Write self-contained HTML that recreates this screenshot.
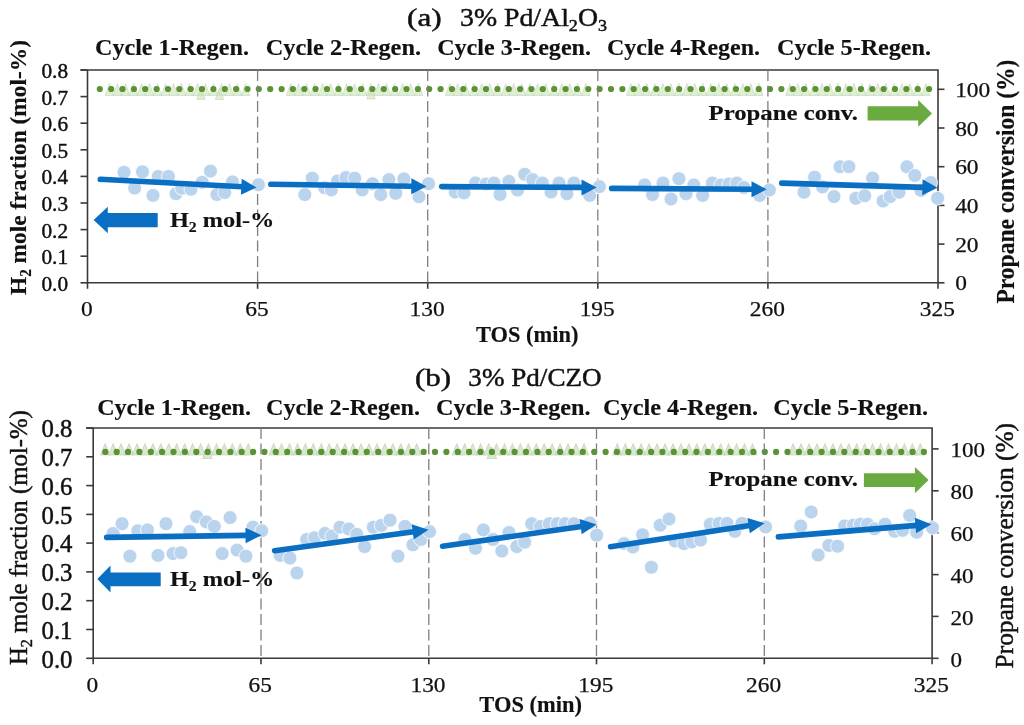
<!DOCTYPE html>
<html><head><meta charset="utf-8"><style>
html,body{margin:0;padding:0;background:#fff;width:1024px;height:725px;overflow:hidden;}
svg{display:block;filter:blur(0.35px);}
</style></head><body>
<svg width="1024" height="725" viewBox="0 0 1024 725" font-family="&quot;Liberation Serif&quot;, serif" fill="#111111">
<rect width="1024" height="725" fill="#ffffff"/>
<text x="407.08" y="25.55" font-size="25.0" font-weight="normal" stroke="#111111" stroke-width="0.45" textLength="34.66" lengthAdjust="spacingAndGlyphs" xml:space="preserve">(a)</text>
<text x="459.99" y="25.55" font-size="25.0" font-weight="normal" stroke="#111111" stroke-width="0.45" textLength="147.03" lengthAdjust="spacingAndGlyphs" xml:space="preserve">3% Pd/Al<tspan font-size="16.25" dy="5.0">2</tspan><tspan dy="-5.0">O</tspan><tspan font-size="16.25" dy="5.0">3</tspan></text>
<text x="94.97" y="55.30" font-size="23.5" font-weight="bold" stroke="#111111" stroke-width="0.15" textLength="154.04" lengthAdjust="spacingAndGlyphs" xml:space="preserve">Cycle 1-Regen.</text>
<text x="265.78" y="55.30" font-size="23.5" font-weight="bold" stroke="#111111" stroke-width="0.15" textLength="155.25" lengthAdjust="spacingAndGlyphs" xml:space="preserve">Cycle 2-Regen.</text>
<text x="437.18" y="55.30" font-size="23.5" font-weight="bold" stroke="#111111" stroke-width="0.15" textLength="153.83" lengthAdjust="spacingAndGlyphs" xml:space="preserve">Cycle 3-Regen.</text>
<text x="606.99" y="55.30" font-size="23.5" font-weight="bold" stroke="#111111" stroke-width="0.15" textLength="153.03" lengthAdjust="spacingAndGlyphs" xml:space="preserve">Cycle 4-Regen.</text>
<text x="776.99" y="55.30" font-size="23.5" font-weight="bold" stroke="#111111" stroke-width="0.15" textLength="154.03" lengthAdjust="spacingAndGlyphs" xml:space="preserve">Cycle 5-Regen.</text>
<path d="M80.5,70.0 H938.0 V282.8 H87.5 V70.0" fill="none" stroke="#3a3a3a" stroke-width="1.6"/>
<line x1="80.5" y1="282.8" x2="87.5" y2="282.8" stroke="#3a3a3a" stroke-width="1.6"/>
<line x1="80.5" y1="256.2" x2="87.5" y2="256.2" stroke="#3a3a3a" stroke-width="1.6"/>
<line x1="80.5" y1="229.6" x2="87.5" y2="229.6" stroke="#3a3a3a" stroke-width="1.6"/>
<line x1="80.5" y1="203.0" x2="87.5" y2="203.0" stroke="#3a3a3a" stroke-width="1.6"/>
<line x1="80.5" y1="176.4" x2="87.5" y2="176.4" stroke="#3a3a3a" stroke-width="1.6"/>
<line x1="80.5" y1="149.8" x2="87.5" y2="149.8" stroke="#3a3a3a" stroke-width="1.6"/>
<line x1="80.5" y1="123.2" x2="87.5" y2="123.2" stroke="#3a3a3a" stroke-width="1.6"/>
<line x1="80.5" y1="96.6" x2="87.5" y2="96.6" stroke="#3a3a3a" stroke-width="1.6"/>
<line x1="80.5" y1="70.0" x2="87.5" y2="70.0" stroke="#3a3a3a" stroke-width="1.6"/>
<line x1="938.0" y1="282.8" x2="944.5" y2="282.8" stroke="#3a3a3a" stroke-width="1.6"/>
<line x1="938.0" y1="244.1" x2="944.5" y2="244.1" stroke="#3a3a3a" stroke-width="1.6"/>
<line x1="938.0" y1="205.4" x2="944.5" y2="205.4" stroke="#3a3a3a" stroke-width="1.6"/>
<line x1="938.0" y1="166.7" x2="944.5" y2="166.7" stroke="#3a3a3a" stroke-width="1.6"/>
<line x1="938.0" y1="128.0" x2="944.5" y2="128.0" stroke="#3a3a3a" stroke-width="1.6"/>
<line x1="938.0" y1="89.3" x2="944.5" y2="89.3" stroke="#3a3a3a" stroke-width="1.6"/>
<line x1="87.5" y1="282.8" x2="87.5" y2="288.8" stroke="#3a3a3a" stroke-width="1.6"/>
<line x1="257.6" y1="282.8" x2="257.6" y2="288.8" stroke="#3a3a3a" stroke-width="1.6"/>
<line x1="427.7" y1="282.8" x2="427.7" y2="288.8" stroke="#3a3a3a" stroke-width="1.6"/>
<line x1="597.8" y1="282.8" x2="597.8" y2="288.8" stroke="#3a3a3a" stroke-width="1.6"/>
<line x1="767.9" y1="282.8" x2="767.9" y2="288.8" stroke="#3a3a3a" stroke-width="1.6"/>
<line x1="938.0" y1="282.8" x2="938.0" y2="288.8" stroke="#3a3a3a" stroke-width="1.6"/>
<g stroke="#111111" stroke-width="0.45">
<text x="41.51" y="290.80" font-size="21.8" textLength="26.55" lengthAdjust="spacingAndGlyphs">0.0</text>
<text x="41.51" y="264.20" font-size="21.8" textLength="26.55" lengthAdjust="spacingAndGlyphs">0.1</text>
<text x="41.51" y="237.60" font-size="21.8" textLength="26.55" lengthAdjust="spacingAndGlyphs">0.2</text>
<text x="41.51" y="211.00" font-size="21.8" textLength="26.55" lengthAdjust="spacingAndGlyphs">0.3</text>
<text x="41.51" y="184.40" font-size="21.8" textLength="26.55" lengthAdjust="spacingAndGlyphs">0.4</text>
<text x="41.51" y="157.80" font-size="21.8" textLength="26.55" lengthAdjust="spacingAndGlyphs">0.5</text>
<text x="41.51" y="131.20" font-size="21.8" textLength="26.55" lengthAdjust="spacingAndGlyphs">0.6</text>
<text x="41.51" y="104.60" font-size="21.8" textLength="26.55" lengthAdjust="spacingAndGlyphs">0.7</text>
<text x="41.51" y="78.00" font-size="21.8" textLength="26.55" lengthAdjust="spacingAndGlyphs">0.8</text>
</g><g stroke="#111111" stroke-width="0.25">
<text x="955.18" y="290.30" font-size="20.6" textLength="11.70" lengthAdjust="spacingAndGlyphs">0</text>
<text x="955.18" y="251.61" font-size="20.6" textLength="23.40" lengthAdjust="spacingAndGlyphs">20</text>
<text x="955.18" y="212.92" font-size="20.6" textLength="23.40" lengthAdjust="spacingAndGlyphs">40</text>
<text x="955.18" y="174.23" font-size="20.6" textLength="23.40" lengthAdjust="spacingAndGlyphs">60</text>
<text x="955.18" y="135.54" font-size="20.6" textLength="23.40" lengthAdjust="spacingAndGlyphs">80</text>
<text x="955.18" y="96.85" font-size="20.6" textLength="35.10" lengthAdjust="spacingAndGlyphs">100</text>
<text x="81.08" y="315.90" font-size="20.9" textLength="11.70" lengthAdjust="spacingAndGlyphs">0</text>
<text x="245.33" y="315.90" font-size="20.9" textLength="23.40" lengthAdjust="spacingAndGlyphs">65</text>
<text x="409.58" y="315.90" font-size="20.9" textLength="35.10" lengthAdjust="spacingAndGlyphs">130</text>
<text x="579.68" y="315.90" font-size="20.9" textLength="35.10" lengthAdjust="spacingAndGlyphs">195</text>
<text x="749.78" y="315.90" font-size="20.9" textLength="35.10" lengthAdjust="spacingAndGlyphs">260</text>
<text x="919.88" y="315.90" font-size="20.9" textLength="35.10" lengthAdjust="spacingAndGlyphs">325</text>
</g>
<text x="476.00" y="342.00" font-size="23.4" font-weight="bold" stroke="#111111" stroke-width="0.15" textLength="102.41" lengthAdjust="spacingAndGlyphs" xml:space="preserve">TOS (min)</text>
<text transform="translate(26.20,295.01) rotate(-90)" font-size="24.1" font-weight="bold" stroke="#111111" stroke-width="0.15" textLength="255.01" lengthAdjust="spacingAndGlyphs" xml:space="preserve">H<tspan font-size="15.67" dy="4.82">2</tspan><tspan dy="-4.82"> mole fraction (mol-%)</tspan></text>
<text transform="translate(1013.70,303.60) rotate(-90)" font-size="24.4" font-weight="bold" stroke="#111111" stroke-width="0.15" textLength="244.01" lengthAdjust="spacingAndGlyphs" xml:space="preserve">Propane conversion (%)</text>
<g fill="#c9e6b4" fill-opacity="0.6" stroke="#c0cbb8" stroke-width="0.7" stroke-opacity="0.7"><path d="M109.5,83.5 L113.8,95.5 L105.2,95.5 Z"/><path d="M117.5,83.5 L121.8,95.5 L113.2,95.5 Z"/><path d="M125.5,83.5 L129.8,95.5 L121.2,95.5 Z"/><path d="M133.5,83.5 L137.8,95.5 L129.2,95.5 Z"/><path d="M141.5,83.5 L145.8,95.5 L137.2,95.5 Z"/><path d="M149.5,83.5 L153.8,95.5 L145.2,95.5 Z"/><path d="M157.5,83.5 L161.8,95.5 L153.2,95.5 Z"/><path d="M165.5,83.5 L169.8,95.5 L161.2,95.5 Z"/><path d="M173.5,83.5 L177.8,95.5 L169.2,95.5 Z"/><path d="M181.5,83.5 L185.8,95.5 L177.2,95.5 Z"/><path d="M189.5,83.5 L193.8,95.5 L185.2,95.5 Z"/><path d="M197.5,83.5 L201.8,95.5 L193.2,95.5 Z"/><path d="M205.5,83.5 L209.8,95.5 L201.2,95.5 Z"/><path d="M213.5,83.5 L217.8,95.5 L209.2,95.5 Z"/><path d="M221.5,83.5 L225.8,95.5 L217.2,95.5 Z"/><path d="M229.5,83.5 L233.8,95.5 L225.2,95.5 Z"/><path d="M237.5,83.5 L241.8,95.5 L233.2,95.5 Z"/><path d="M245.5,83.5 L249.8,95.5 L241.2,95.5 Z"/><path d="M290.6,83.5 L294.9,95.5 L286.4,95.5 Z"/><path d="M298.6,83.5 L302.9,95.5 L294.4,95.5 Z"/><path d="M306.6,83.5 L310.9,95.5 L302.4,95.5 Z"/><path d="M314.6,83.5 L318.9,95.5 L310.4,95.5 Z"/><path d="M322.6,83.5 L326.9,95.5 L318.4,95.5 Z"/><path d="M330.6,83.5 L334.9,95.5 L326.4,95.5 Z"/><path d="M338.6,83.5 L342.9,95.5 L334.4,95.5 Z"/><path d="M346.6,83.5 L350.9,95.5 L342.4,95.5 Z"/><path d="M354.6,83.5 L358.9,95.5 L350.4,95.5 Z"/><path d="M362.6,83.5 L366.9,95.5 L358.4,95.5 Z"/><path d="M370.6,83.5 L374.9,95.5 L366.4,95.5 Z"/><path d="M378.6,83.5 L382.9,95.5 L374.4,95.5 Z"/><path d="M386.6,83.5 L390.9,95.5 L382.4,95.5 Z"/><path d="M394.6,83.5 L398.9,95.5 L390.4,95.5 Z"/><path d="M402.6,83.5 L406.9,95.5 L398.4,95.5 Z"/><path d="M410.6,83.5 L414.9,95.5 L406.4,95.5 Z"/><path d="M418.6,83.5 L422.9,95.5 L414.4,95.5 Z"/><path d="M449.7,83.5 L453.9,95.5 L445.4,95.5 Z"/><path d="M457.7,83.5 L461.9,95.5 L453.4,95.5 Z"/><path d="M465.7,83.5 L469.9,95.5 L461.4,95.5 Z"/><path d="M473.7,83.5 L477.9,95.5 L469.4,95.5 Z"/><path d="M481.7,83.5 L485.9,95.5 L477.4,95.5 Z"/><path d="M489.7,83.5 L493.9,95.5 L485.4,95.5 Z"/><path d="M497.7,83.5 L501.9,95.5 L493.4,95.5 Z"/><path d="M505.7,83.5 L509.9,95.5 L501.4,95.5 Z"/><path d="M513.7,83.5 L518.0,95.5 L509.5,95.5 Z"/><path d="M521.7,83.5 L526.0,95.5 L517.5,95.5 Z"/><path d="M529.7,83.5 L534.0,95.5 L525.5,95.5 Z"/><path d="M537.7,83.5 L542.0,95.5 L533.5,95.5 Z"/><path d="M545.7,83.5 L550.0,95.5 L541.5,95.5 Z"/><path d="M553.7,83.5 L558.0,95.5 L549.5,95.5 Z"/><path d="M561.7,83.5 L566.0,95.5 L557.5,95.5 Z"/><path d="M569.7,83.5 L574.0,95.5 L565.5,95.5 Z"/><path d="M577.7,83.5 L582.0,95.5 L573.5,95.5 Z"/><path d="M585.7,83.5 L590.0,95.5 L581.5,95.5 Z"/><path d="M630.8,83.5 L635.0,95.5 L626.5,95.5 Z"/><path d="M638.8,83.5 L643.0,95.5 L634.5,95.5 Z"/><path d="M646.8,83.5 L651.0,95.5 L642.5,95.5 Z"/><path d="M654.8,83.5 L659.0,95.5 L650.5,95.5 Z"/><path d="M662.8,83.5 L667.0,95.5 L658.5,95.5 Z"/><path d="M670.8,83.5 L675.0,95.5 L666.5,95.5 Z"/><path d="M678.8,83.5 L683.0,95.5 L674.5,95.5 Z"/><path d="M686.8,83.5 L691.0,95.5 L682.5,95.5 Z"/><path d="M694.8,83.5 L699.0,95.5 L690.5,95.5 Z"/><path d="M702.8,83.5 L707.0,95.5 L698.5,95.5 Z"/><path d="M710.8,83.5 L715.0,95.5 L706.5,95.5 Z"/><path d="M718.8,83.5 L723.0,95.5 L714.5,95.5 Z"/><path d="M726.8,83.5 L731.0,95.5 L722.5,95.5 Z"/><path d="M734.8,83.5 L739.0,95.5 L730.5,95.5 Z"/><path d="M742.8,83.5 L747.0,95.5 L738.5,95.5 Z"/><path d="M750.8,83.5 L755.0,95.5 L746.5,95.5 Z"/><path d="M758.8,83.5 L763.0,95.5 L754.5,95.5 Z"/><path d="M789.9,83.5 L794.1,95.5 L785.6,95.5 Z"/><path d="M797.9,83.5 L802.1,95.5 L793.6,95.5 Z"/><path d="M805.9,83.5 L810.1,95.5 L801.6,95.5 Z"/><path d="M813.9,83.5 L818.1,95.5 L809.6,95.5 Z"/><path d="M821.9,83.5 L826.1,95.5 L817.6,95.5 Z"/><path d="M829.9,83.5 L834.1,95.5 L825.6,95.5 Z"/><path d="M837.9,83.5 L842.1,95.5 L833.6,95.5 Z"/><path d="M845.9,83.5 L850.1,95.5 L841.6,95.5 Z"/><path d="M853.9,83.5 L858.1,95.5 L849.6,95.5 Z"/><path d="M861.9,83.5 L866.1,95.5 L857.6,95.5 Z"/><path d="M869.9,83.5 L874.1,95.5 L865.6,95.5 Z"/><path d="M877.9,83.5 L882.1,95.5 L873.6,95.5 Z"/><path d="M885.9,83.5 L890.1,95.5 L881.6,95.5 Z"/><path d="M893.9,83.5 L898.1,95.5 L889.6,95.5 Z"/><path d="M901.9,83.5 L906.1,95.5 L897.6,95.5 Z"/><path d="M909.9,83.5 L914.1,95.5 L905.6,95.5 Z"/><path d="M917.9,83.5 L922.1,95.5 L913.6,95.5 Z"/><path d="M925.9,83.5 L930.1,95.5 L921.6,95.5 Z"/><path d="M201.0,88.0 L205.2,99.5 L196.8,99.5 Z"/><path d="M219.5,88.0 L223.8,99.5 L215.2,99.5 Z"/><path d="M371.0,87.5 L375.2,99.0 L366.8,99.0 Z"/></g>
<g fill="#5a9234"><circle cx="99.8" cy="89.0" r="3.1"/><circle cx="111.2" cy="89.0" r="3.1"/><circle cx="122.5" cy="89.0" r="3.1"/><circle cx="133.9" cy="89.0" r="3.1"/><circle cx="145.2" cy="89.0" r="3.1"/><circle cx="156.6" cy="89.0" r="3.1"/><circle cx="168.0" cy="89.0" r="3.1"/><circle cx="179.3" cy="89.0" r="3.1"/><circle cx="190.7" cy="89.0" r="3.1"/><circle cx="202.0" cy="89.0" r="3.1"/><circle cx="213.4" cy="89.0" r="3.1"/><circle cx="224.8" cy="89.0" r="3.1"/><circle cx="236.1" cy="89.0" r="3.1"/><circle cx="247.5" cy="89.0" r="3.1"/><circle cx="258.8" cy="89.0" r="3.1"/><circle cx="270.2" cy="89.0" r="3.1"/><circle cx="281.6" cy="89.0" r="3.1"/><circle cx="292.9" cy="89.0" r="3.1"/><circle cx="304.3" cy="89.0" r="3.1"/><circle cx="315.6" cy="89.0" r="3.1"/><circle cx="327.0" cy="89.0" r="3.1"/><circle cx="338.4" cy="89.0" r="3.1"/><circle cx="349.7" cy="89.0" r="3.1"/><circle cx="361.1" cy="89.0" r="3.1"/><circle cx="372.4" cy="89.0" r="3.1"/><circle cx="383.8" cy="89.0" r="3.1"/><circle cx="395.2" cy="89.0" r="3.1"/><circle cx="406.5" cy="89.0" r="3.1"/><circle cx="417.9" cy="89.0" r="3.1"/><circle cx="429.2" cy="89.0" r="3.1"/><circle cx="440.6" cy="89.0" r="3.1"/><circle cx="452.0" cy="89.0" r="3.1"/><circle cx="463.3" cy="89.0" r="3.1"/><circle cx="474.7" cy="89.0" r="3.1"/><circle cx="486.0" cy="89.0" r="3.1"/><circle cx="497.4" cy="89.0" r="3.1"/><circle cx="508.8" cy="89.0" r="3.1"/><circle cx="520.1" cy="89.0" r="3.1"/><circle cx="531.5" cy="89.0" r="3.1"/><circle cx="542.8" cy="89.0" r="3.1"/><circle cx="554.2" cy="89.0" r="3.1"/><circle cx="565.6" cy="89.0" r="3.1"/><circle cx="576.9" cy="89.0" r="3.1"/><circle cx="588.3" cy="89.0" r="3.1"/><circle cx="599.6" cy="89.0" r="3.1"/><circle cx="611.0" cy="89.0" r="3.1"/><circle cx="622.4" cy="89.0" r="3.1"/><circle cx="633.7" cy="89.0" r="3.1"/><circle cx="645.1" cy="89.0" r="3.1"/><circle cx="656.4" cy="89.0" r="3.1"/><circle cx="667.8" cy="89.0" r="3.1"/><circle cx="679.2" cy="89.0" r="3.1"/><circle cx="690.5" cy="89.0" r="3.1"/><circle cx="701.9" cy="89.0" r="3.1"/><circle cx="713.2" cy="89.0" r="3.1"/><circle cx="724.6" cy="89.0" r="3.1"/><circle cx="736.0" cy="89.0" r="3.1"/><circle cx="747.3" cy="89.0" r="3.1"/><circle cx="758.7" cy="89.0" r="3.1"/><circle cx="770.0" cy="89.0" r="3.1"/><circle cx="781.4" cy="89.0" r="3.1"/><circle cx="792.8" cy="89.0" r="3.1"/><circle cx="804.1" cy="89.0" r="3.1"/><circle cx="815.5" cy="89.0" r="3.1"/><circle cx="826.8" cy="89.0" r="3.1"/><circle cx="838.2" cy="89.0" r="3.1"/><circle cx="849.6" cy="89.0" r="3.1"/><circle cx="860.9" cy="89.0" r="3.1"/><circle cx="872.3" cy="89.0" r="3.1"/><circle cx="883.6" cy="89.0" r="3.1"/><circle cx="895.0" cy="89.0" r="3.1"/><circle cx="906.4" cy="89.0" r="3.1"/><circle cx="917.7" cy="89.0" r="3.1"/><circle cx="929.1" cy="89.0" r="3.1"/></g>
<line x1="257.6" y1="70.0" x2="257.6" y2="282.8" stroke="#7f7f7f" stroke-width="1.3" stroke-dasharray="11,4.5"/>
<line x1="427.7" y1="70.0" x2="427.7" y2="282.8" stroke="#7f7f7f" stroke-width="1.3" stroke-dasharray="11,4.5"/>
<line x1="597.8" y1="70.0" x2="597.8" y2="282.8" stroke="#7f7f7f" stroke-width="1.3" stroke-dasharray="11,4.5"/>
<line x1="767.9" y1="70.0" x2="767.9" y2="282.8" stroke="#7f7f7f" stroke-width="1.3" stroke-dasharray="11,4.5"/>
<g fill="#bbd4ee" stroke="#ffffff" stroke-width="0.8"><circle cx="124.0" cy="172.3" r="7.0"/><circle cx="134.6" cy="188.0" r="7.0"/><circle cx="142.5" cy="171.8" r="7.0"/><circle cx="153.0" cy="195.4" r="7.0"/><circle cx="158.3" cy="176.5" r="7.0"/><circle cx="168.4" cy="176.5" r="7.0"/><circle cx="176.0" cy="193.7" r="7.0"/><circle cx="181.7" cy="188.2" r="7.0"/><circle cx="191.0" cy="189.2" r="7.0"/><circle cx="202.2" cy="182.3" r="7.0"/><circle cx="210.5" cy="171.1" r="7.0"/><circle cx="216.9" cy="194.5" r="7.0"/><circle cx="224.7" cy="192.6" r="7.0"/><circle cx="232.5" cy="181.9" r="7.0"/><circle cx="258.4" cy="184.8" r="7.0"/><circle cx="304.8" cy="194.6" r="7.0"/><circle cx="312.3" cy="178.2" r="7.0"/><circle cx="324.6" cy="187.8" r="7.0"/><circle cx="331.4" cy="189.9" r="7.0"/><circle cx="337.6" cy="181.0" r="7.0"/><circle cx="345.8" cy="177.6" r="7.0"/><circle cx="354.7" cy="178.2" r="7.0"/><circle cx="362.2" cy="189.9" r="7.0"/><circle cx="372.5" cy="183.7" r="7.0"/><circle cx="380.7" cy="194.6" r="7.0"/><circle cx="388.9" cy="179.6" r="7.0"/><circle cx="395.7" cy="193.3" r="7.0"/><circle cx="403.9" cy="178.9" r="7.0"/><circle cx="419.0" cy="196.7" r="7.0"/><circle cx="428.5" cy="183.7" r="7.0"/><circle cx="455.2" cy="192.0" r="7.0"/><circle cx="464.0" cy="192.8" r="7.0"/><circle cx="475.5" cy="183.0" r="7.0"/><circle cx="486.0" cy="184.0" r="7.0"/><circle cx="494.0" cy="183.0" r="7.0"/><circle cx="500.0" cy="194.5" r="7.0"/><circle cx="508.9" cy="181.4" r="7.0"/><circle cx="517.6" cy="190.0" r="7.0"/><circle cx="524.7" cy="174.3" r="7.0"/><circle cx="532.6" cy="179.6" r="7.0"/><circle cx="542.3" cy="183.0" r="7.0"/><circle cx="551.0" cy="192.0" r="7.0"/><circle cx="559.0" cy="183.0" r="7.0"/><circle cx="566.9" cy="193.7" r="7.0"/><circle cx="573.9" cy="183.0" r="7.0"/><circle cx="589.7" cy="195.4" r="7.0"/><circle cx="599.4" cy="186.6" r="7.0"/><circle cx="644.6" cy="185.0" r="7.0"/><circle cx="652.5" cy="194.5" r="7.0"/><circle cx="663.0" cy="183.0" r="7.0"/><circle cx="671.0" cy="199.0" r="7.0"/><circle cx="678.9" cy="178.7" r="7.0"/><circle cx="686.0" cy="193.7" r="7.0"/><circle cx="693.8" cy="185.0" r="7.0"/><circle cx="702.6" cy="195.4" r="7.0"/><circle cx="712.3" cy="183.0" r="7.0"/><circle cx="721.0" cy="185.0" r="7.0"/><circle cx="729.0" cy="184.0" r="7.0"/><circle cx="736.9" cy="183.0" r="7.0"/><circle cx="743.9" cy="187.5" r="7.0"/><circle cx="759.7" cy="195.4" r="7.0"/><circle cx="769.4" cy="190.0" r="7.0"/><circle cx="804.0" cy="192.2" r="7.0"/><circle cx="814.6" cy="177.2" r="7.0"/><circle cx="822.5" cy="186.9" r="7.0"/><circle cx="834.0" cy="196.6" r="7.0"/><circle cx="840.0" cy="166.7" r="7.0"/><circle cx="848.9" cy="166.7" r="7.0"/><circle cx="855.9" cy="198.3" r="7.0"/><circle cx="864.7" cy="195.7" r="7.0"/><circle cx="872.6" cy="178.1" r="7.0"/><circle cx="883.1" cy="201.0" r="7.0"/><circle cx="890.2" cy="196.6" r="7.0"/><circle cx="899.0" cy="192.2" r="7.0"/><circle cx="906.9" cy="166.7" r="7.0"/><circle cx="914.8" cy="175.5" r="7.0"/><circle cx="920.9" cy="190.4" r="7.0"/><circle cx="930.6" cy="182.5" r="7.0"/><circle cx="937.6" cy="198.3" r="7.0"/></g>
<line x1="100.3" y1="179.3" x2="242.3" y2="186.8" stroke="#0a6fc2" stroke-width="5.6" stroke-linecap="round"/>
<path d="M256.5,187.5 L240.9,194.7 L241.7,178.7 Z" fill="#0a6fc2"/>
<line x1="270.8" y1="184.2" x2="412.3" y2="186.2" stroke="#0a6fc2" stroke-width="5.6" stroke-linecap="round"/>
<path d="M426.5,186.4 L411.2,194.2 L411.4,178.2 Z" fill="#0a6fc2"/>
<line x1="441.7" y1="186.6" x2="582.5" y2="187.4" stroke="#0a6fc2" stroke-width="5.6" stroke-linecap="round"/>
<path d="M596.7,187.5 L581.5,195.4 L581.5,179.4 Z" fill="#0a6fc2"/>
<line x1="611.7" y1="188.4" x2="752.5" y2="189.2" stroke="#0a6fc2" stroke-width="5.6" stroke-linecap="round"/>
<path d="M766.7,189.3 L751.5,197.2 L751.5,181.2 Z" fill="#0a6fc2"/>
<line x1="781.7" y1="183.1" x2="923.4" y2="187.4" stroke="#0a6fc2" stroke-width="5.6" stroke-linecap="round"/>
<path d="M937.6,187.8 L922.2,195.3 L922.6,179.3 Z" fill="#0a6fc2"/>
<text x="708.59" y="119.60" font-size="21.5" font-weight="bold" stroke="#111111" stroke-width="0.15" textLength="149.42" lengthAdjust="spacingAndGlyphs" xml:space="preserve">Propane conv.</text>
<path d="M867.6,106.3 H918.2 V100.1 L932,113.5 L918.2,126.8 V120.5 H867.6 Z" fill="#6aab40"/>
<path d="M93.6,220 L107.8,206.7 V213.1 H157.7 V227.2 H107.8 V233.2 Z" fill="#0a6fc2"/>
<text x="169.97" y="227.30" font-size="21.4" font-weight="bold" stroke="#111111" stroke-width="0.15" textLength="104.48" lengthAdjust="spacingAndGlyphs" xml:space="preserve">H<tspan font-size="13.91" dy="4.28">2</tspan><tspan dy="-4.28"> mol-%</tspan></text>
<text x="415.05" y="386.20" font-size="25.2" font-weight="normal" stroke="#111111" stroke-width="0.45" textLength="36.09" lengthAdjust="spacingAndGlyphs" xml:space="preserve">(b)</text>
<text x="468.37" y="386.20" font-size="25.2" font-weight="normal" stroke="#111111" stroke-width="0.45" textLength="133.25" lengthAdjust="spacingAndGlyphs" xml:space="preserve">3% Pd/CZO</text>
<text x="97.18" y="414.60" font-size="23.8" font-weight="bold" stroke="#111111" stroke-width="0.15" textLength="153.83" lengthAdjust="spacingAndGlyphs" xml:space="preserve">Cycle 1-Regen.</text>
<text x="265.99" y="414.60" font-size="23.8" font-weight="bold" stroke="#111111" stroke-width="0.15" textLength="154.03" lengthAdjust="spacingAndGlyphs" xml:space="preserve">Cycle 2-Regen.</text>
<text x="435.99" y="414.60" font-size="23.8" font-weight="bold" stroke="#111111" stroke-width="0.15" textLength="154.64" lengthAdjust="spacingAndGlyphs" xml:space="preserve">Cycle 3-Regen.</text>
<text x="602.99" y="414.60" font-size="23.8" font-weight="bold" stroke="#111111" stroke-width="0.15" textLength="155.03" lengthAdjust="spacingAndGlyphs" xml:space="preserve">Cycle 4-Regen.</text>
<text x="773.38" y="414.60" font-size="23.8" font-weight="bold" stroke="#111111" stroke-width="0.15" textLength="154.64" lengthAdjust="spacingAndGlyphs" xml:space="preserve">Cycle 5-Regen.</text>
<path d="M86.2,428.0 H932.1 V658.3 H93.2 V428.0" fill="none" stroke="#3a3a3a" stroke-width="1.6"/>
<line x1="86.2" y1="658.3" x2="93.2" y2="658.3" stroke="#3a3a3a" stroke-width="1.6"/>
<line x1="86.2" y1="629.5" x2="93.2" y2="629.5" stroke="#3a3a3a" stroke-width="1.6"/>
<line x1="86.2" y1="600.7" x2="93.2" y2="600.7" stroke="#3a3a3a" stroke-width="1.6"/>
<line x1="86.2" y1="571.9" x2="93.2" y2="571.9" stroke="#3a3a3a" stroke-width="1.6"/>
<line x1="86.2" y1="543.1" x2="93.2" y2="543.1" stroke="#3a3a3a" stroke-width="1.6"/>
<line x1="86.2" y1="514.4" x2="93.2" y2="514.4" stroke="#3a3a3a" stroke-width="1.6"/>
<line x1="86.2" y1="485.6" x2="93.2" y2="485.6" stroke="#3a3a3a" stroke-width="1.6"/>
<line x1="86.2" y1="456.8" x2="93.2" y2="456.8" stroke="#3a3a3a" stroke-width="1.6"/>
<line x1="86.2" y1="428.0" x2="93.2" y2="428.0" stroke="#3a3a3a" stroke-width="1.6"/>
<line x1="932.1" y1="658.3" x2="938.6" y2="658.3" stroke="#3a3a3a" stroke-width="1.6"/>
<line x1="932.1" y1="616.4" x2="938.6" y2="616.4" stroke="#3a3a3a" stroke-width="1.6"/>
<line x1="932.1" y1="574.6" x2="938.6" y2="574.6" stroke="#3a3a3a" stroke-width="1.6"/>
<line x1="932.1" y1="532.7" x2="938.6" y2="532.7" stroke="#3a3a3a" stroke-width="1.6"/>
<line x1="932.1" y1="490.8" x2="938.6" y2="490.8" stroke="#3a3a3a" stroke-width="1.6"/>
<line x1="932.1" y1="448.9" x2="938.6" y2="448.9" stroke="#3a3a3a" stroke-width="1.6"/>
<line x1="93.2" y1="658.3" x2="93.2" y2="664.3" stroke="#3a3a3a" stroke-width="1.6"/>
<line x1="261.0" y1="658.3" x2="261.0" y2="664.3" stroke="#3a3a3a" stroke-width="1.6"/>
<line x1="428.8" y1="658.3" x2="428.8" y2="664.3" stroke="#3a3a3a" stroke-width="1.6"/>
<line x1="596.5" y1="658.3" x2="596.5" y2="664.3" stroke="#3a3a3a" stroke-width="1.6"/>
<line x1="764.3" y1="658.3" x2="764.3" y2="664.3" stroke="#3a3a3a" stroke-width="1.6"/>
<line x1="932.1" y1="658.3" x2="932.1" y2="664.3" stroke="#3a3a3a" stroke-width="1.6"/>
<g stroke="#111111" stroke-width="0.45">
<text x="41.54" y="667.50" font-size="24.3" textLength="30.95" lengthAdjust="spacingAndGlyphs">0.0</text>
<text x="41.54" y="638.71" font-size="24.3" textLength="30.95" lengthAdjust="spacingAndGlyphs">0.1</text>
<text x="41.54" y="609.92" font-size="24.3" textLength="30.95" lengthAdjust="spacingAndGlyphs">0.2</text>
<text x="41.54" y="581.14" font-size="24.3" textLength="30.95" lengthAdjust="spacingAndGlyphs">0.3</text>
<text x="41.54" y="552.35" font-size="24.3" textLength="30.95" lengthAdjust="spacingAndGlyphs">0.4</text>
<text x="41.54" y="523.56" font-size="24.3" textLength="30.95" lengthAdjust="spacingAndGlyphs">0.5</text>
<text x="41.54" y="494.77" font-size="24.3" textLength="30.95" lengthAdjust="spacingAndGlyphs">0.6</text>
<text x="41.54" y="465.99" font-size="24.3" textLength="30.95" lengthAdjust="spacingAndGlyphs">0.7</text>
<text x="41.54" y="437.20" font-size="24.3" textLength="30.95" lengthAdjust="spacingAndGlyphs">0.8</text>
</g><g stroke="#111111" stroke-width="0.25">
<text x="950.55" y="666.80" font-size="20.0" textLength="11.52" lengthAdjust="spacingAndGlyphs">0</text>
<text x="950.55" y="624.93" font-size="20.0" textLength="23.04" lengthAdjust="spacingAndGlyphs">20</text>
<text x="950.55" y="583.05" font-size="20.0" textLength="23.04" lengthAdjust="spacingAndGlyphs">40</text>
<text x="950.55" y="541.18" font-size="20.0" textLength="23.04" lengthAdjust="spacingAndGlyphs">60</text>
<text x="950.55" y="499.31" font-size="20.0" textLength="23.04" lengthAdjust="spacingAndGlyphs">80</text>
<text x="950.55" y="457.44" font-size="20.0" textLength="34.55" lengthAdjust="spacingAndGlyphs">100</text>
<text x="86.63" y="691.90" font-size="21.5" textLength="11.67" lengthAdjust="spacingAndGlyphs">0</text>
<text x="248.58" y="691.90" font-size="21.5" textLength="23.35" lengthAdjust="spacingAndGlyphs">65</text>
<text x="410.52" y="691.90" font-size="21.5" textLength="35.02" lengthAdjust="spacingAndGlyphs">130</text>
<text x="578.30" y="691.90" font-size="21.5" textLength="35.02" lengthAdjust="spacingAndGlyphs">195</text>
<text x="746.08" y="691.90" font-size="21.5" textLength="35.02" lengthAdjust="spacingAndGlyphs">260</text>
<text x="913.86" y="691.90" font-size="21.5" textLength="35.02" lengthAdjust="spacingAndGlyphs">325</text>
</g>
<text x="479.39" y="712.00" font-size="22.1" font-weight="bold" stroke="#111111" stroke-width="0.15" textLength="102.62" lengthAdjust="spacingAndGlyphs" xml:space="preserve">TOS (min)</text>
<text transform="translate(27.30,665.01) rotate(-90)" font-size="24.6" font-weight="normal" stroke="#111111" stroke-width="0.45" textLength="254.82" lengthAdjust="spacingAndGlyphs" xml:space="preserve">H<tspan font-size="15.99" dy="4.92">2</tspan><tspan dy="-4.92"> mole fraction (mol-%)</tspan></text>
<text transform="translate(1013.40,668.41) rotate(-90)" font-size="24.6" font-weight="normal" stroke="#111111" stroke-width="0.45" textLength="245.42" lengthAdjust="spacingAndGlyphs" xml:space="preserve">Propane conversion (%)</text>
<g fill="#d2e9c3" fill-opacity="0.9" stroke="#b5bdb0" stroke-width="0.7" stroke-opacity="0.7"><path d="M105.2,443.5 L110.0,455.0 L100.5,455.0 Z"/><path d="M113.2,443.5 L117.9,455.0 L108.4,455.0 Z"/><path d="M121.1,443.5 L125.9,455.0 L116.4,455.0 Z"/><path d="M129.1,443.5 L133.8,455.0 L124.3,455.0 Z"/><path d="M137.0,443.5 L141.8,455.0 L132.2,455.0 Z"/><path d="M144.9,443.5 L149.7,455.0 L140.2,455.0 Z"/><path d="M152.9,443.5 L157.6,455.0 L148.1,455.0 Z"/><path d="M160.8,443.5 L165.6,455.0 L156.1,455.0 Z"/><path d="M168.8,443.5 L173.5,455.0 L164.0,455.0 Z"/><path d="M176.7,443.5 L181.5,455.0 L172.0,455.0 Z"/><path d="M184.7,443.5 L189.4,455.0 L179.9,455.0 Z"/><path d="M192.6,443.5 L197.4,455.0 L187.9,455.0 Z"/><path d="M200.6,443.5 L205.3,455.0 L195.8,455.0 Z"/><path d="M208.5,443.5 L213.3,455.0 L203.8,455.0 Z"/><path d="M216.5,443.5 L221.2,455.0 L211.7,455.0 Z"/><path d="M224.4,443.5 L229.2,455.0 L219.7,455.0 Z"/><path d="M232.4,443.5 L237.1,455.0 L227.6,455.0 Z"/><path d="M240.3,443.5 L245.1,455.0 L235.6,455.0 Z"/><path d="M248.3,443.5 L253.0,455.0 L243.5,455.0 Z"/><path d="M273.6,443.5 L278.3,455.0 L268.8,455.0 Z"/><path d="M281.5,443.5 L286.3,455.0 L276.8,455.0 Z"/><path d="M289.5,443.5 L294.2,455.0 L284.7,455.0 Z"/><path d="M297.4,443.5 L302.2,455.0 L292.7,455.0 Z"/><path d="M305.4,443.5 L310.1,455.0 L300.6,455.0 Z"/><path d="M313.3,443.5 L318.1,455.0 L308.6,455.0 Z"/><path d="M321.3,443.5 L326.0,455.0 L316.5,455.0 Z"/><path d="M329.2,443.5 L334.0,455.0 L324.5,455.0 Z"/><path d="M337.2,443.5 L341.9,455.0 L332.4,455.0 Z"/><path d="M345.1,443.5 L349.9,455.0 L340.4,455.0 Z"/><path d="M353.1,443.5 L357.8,455.0 L348.3,455.0 Z"/><path d="M361.0,443.5 L365.8,455.0 L356.3,455.0 Z"/><path d="M369.0,443.5 L373.7,455.0 L364.2,455.0 Z"/><path d="M376.9,443.5 L381.7,455.0 L372.2,455.0 Z"/><path d="M384.9,443.5 L389.6,455.0 L380.1,455.0 Z"/><path d="M392.8,443.5 L397.6,455.0 L388.1,455.0 Z"/><path d="M400.8,443.5 L405.5,455.0 L396.0,455.0 Z"/><path d="M408.7,443.5 L413.5,455.0 L404.0,455.0 Z"/><path d="M416.7,443.5 L421.4,455.0 L411.9,455.0 Z"/><path d="M456.8,443.5 L461.5,455.0 L452.0,455.0 Z"/><path d="M464.7,443.5 L469.5,455.0 L460.0,455.0 Z"/><path d="M472.7,443.5 L477.4,455.0 L467.9,455.0 Z"/><path d="M480.6,443.5 L485.4,455.0 L475.9,455.0 Z"/><path d="M488.6,443.5 L493.3,455.0 L483.8,455.0 Z"/><path d="M496.5,443.5 L501.3,455.0 L491.8,455.0 Z"/><path d="M504.5,443.5 L509.2,455.0 L499.7,455.0 Z"/><path d="M512.4,443.5 L517.2,455.0 L507.7,455.0 Z"/><path d="M520.4,443.5 L525.1,455.0 L515.6,455.0 Z"/><path d="M528.3,443.5 L533.1,455.0 L523.6,455.0 Z"/><path d="M536.3,443.5 L541.0,455.0 L531.5,455.0 Z"/><path d="M544.2,443.5 L549.0,455.0 L539.5,455.0 Z"/><path d="M552.2,443.5 L556.9,455.0 L547.4,455.0 Z"/><path d="M560.1,443.5 L564.9,455.0 L555.4,455.0 Z"/><path d="M568.1,443.5 L572.8,455.0 L563.3,455.0 Z"/><path d="M576.0,443.5 L580.8,455.0 L571.3,455.0 Z"/><path d="M584.0,443.5 L588.7,455.0 L579.2,455.0 Z"/><path d="M617.3,443.5 L622.1,455.0 L612.6,455.0 Z"/><path d="M625.3,443.5 L630.0,455.0 L620.5,455.0 Z"/><path d="M633.2,443.5 L638.0,455.0 L628.5,455.0 Z"/><path d="M641.2,443.5 L645.9,455.0 L636.4,455.0 Z"/><path d="M649.1,443.5 L653.9,455.0 L644.4,455.0 Z"/><path d="M657.1,443.5 L661.8,455.0 L652.3,455.0 Z"/><path d="M665.0,443.5 L669.8,455.0 L660.3,455.0 Z"/><path d="M673.0,443.5 L677.7,455.0 L668.2,455.0 Z"/><path d="M680.9,443.5 L685.7,455.0 L676.2,455.0 Z"/><path d="M688.9,443.5 L693.6,455.0 L684.1,455.0 Z"/><path d="M696.8,443.5 L701.6,455.0 L692.1,455.0 Z"/><path d="M704.8,443.5 L709.5,455.0 L700.0,455.0 Z"/><path d="M712.7,443.5 L717.5,455.0 L708.0,455.0 Z"/><path d="M720.7,443.5 L725.4,455.0 L715.9,455.0 Z"/><path d="M728.6,443.5 L733.4,455.0 L723.9,455.0 Z"/><path d="M736.6,443.5 L741.3,455.0 L731.8,455.0 Z"/><path d="M744.5,443.5 L749.3,455.0 L739.8,455.0 Z"/><path d="M752.5,443.5 L757.2,455.0 L747.7,455.0 Z"/><path d="M793.1,443.5 L797.9,455.0 L788.4,455.0 Z"/><path d="M801.1,443.5 L805.8,455.0 L796.3,455.0 Z"/><path d="M809.0,443.5 L813.8,455.0 L804.3,455.0 Z"/><path d="M817.0,443.5 L821.7,455.0 L812.2,455.0 Z"/><path d="M824.9,443.5 L829.7,455.0 L820.2,455.0 Z"/><path d="M832.9,443.5 L837.6,455.0 L828.1,455.0 Z"/><path d="M840.8,443.5 L845.6,455.0 L836.1,455.0 Z"/><path d="M848.8,443.5 L853.5,455.0 L844.0,455.0 Z"/><path d="M856.7,443.5 L861.5,455.0 L852.0,455.0 Z"/><path d="M864.7,443.5 L869.4,455.0 L859.9,455.0 Z"/><path d="M872.6,443.5 L877.4,455.0 L867.9,455.0 Z"/><path d="M880.6,443.5 L885.3,455.0 L875.8,455.0 Z"/><path d="M888.5,443.5 L893.3,455.0 L883.8,455.0 Z"/><path d="M896.5,443.5 L901.2,455.0 L891.7,455.0 Z"/><path d="M904.4,443.5 L909.2,455.0 L899.7,455.0 Z"/><path d="M912.4,443.5 L917.1,455.0 L907.6,455.0 Z"/><path d="M920.3,443.5 L925.1,455.0 L915.6,455.0 Z"/><path d="M207.3,447.0 L212.1,458.5 L202.6,458.5 Z"/><path d="M491.8,447.0 L496.6,458.5 L487.1,458.5 Z"/></g>
<g fill="#5a9234"><circle cx="105.3" cy="451.9" r="3.1"/><circle cx="116.7" cy="451.9" r="3.1"/><circle cx="128.0" cy="451.9" r="3.1"/><circle cx="139.4" cy="451.9" r="3.1"/><circle cx="150.8" cy="451.9" r="3.1"/><circle cx="162.1" cy="451.9" r="3.1"/><circle cx="173.5" cy="451.9" r="3.1"/><circle cx="184.9" cy="451.9" r="3.1"/><circle cx="196.3" cy="451.9" r="3.1"/><circle cx="207.6" cy="451.9" r="3.1"/><circle cx="219.0" cy="451.9" r="3.1"/><circle cx="230.4" cy="451.9" r="3.1"/><circle cx="241.7" cy="451.9" r="3.1"/><circle cx="253.1" cy="451.9" r="3.1"/><circle cx="264.5" cy="451.9" r="3.1"/><circle cx="275.8" cy="451.9" r="3.1"/><circle cx="287.2" cy="451.9" r="3.1"/><circle cx="298.6" cy="451.9" r="3.1"/><circle cx="310.0" cy="451.9" r="3.1"/><circle cx="321.3" cy="451.9" r="3.1"/><circle cx="332.7" cy="451.9" r="3.1"/><circle cx="344.1" cy="451.9" r="3.1"/><circle cx="355.4" cy="451.9" r="3.1"/><circle cx="366.8" cy="451.9" r="3.1"/><circle cx="378.2" cy="451.9" r="3.1"/><circle cx="389.6" cy="451.9" r="3.1"/><circle cx="400.9" cy="451.9" r="3.1"/><circle cx="412.3" cy="451.9" r="3.1"/><circle cx="423.7" cy="451.9" r="3.1"/><circle cx="435.0" cy="451.9" r="3.1"/><circle cx="446.4" cy="451.9" r="3.1"/><circle cx="457.8" cy="451.9" r="3.1"/><circle cx="469.1" cy="451.9" r="3.1"/><circle cx="480.5" cy="451.9" r="3.1"/><circle cx="491.9" cy="451.9" r="3.1"/><circle cx="503.2" cy="451.9" r="3.1"/><circle cx="514.6" cy="451.9" r="3.1"/><circle cx="526.0" cy="451.9" r="3.1"/><circle cx="537.4" cy="451.9" r="3.1"/><circle cx="548.7" cy="451.9" r="3.1"/><circle cx="560.1" cy="451.9" r="3.1"/><circle cx="571.5" cy="451.9" r="3.1"/><circle cx="582.8" cy="451.9" r="3.1"/><circle cx="594.2" cy="451.9" r="3.1"/><circle cx="605.6" cy="451.9" r="3.1"/><circle cx="616.9" cy="451.9" r="3.1"/><circle cx="628.3" cy="451.9" r="3.1"/><circle cx="639.7" cy="451.9" r="3.1"/><circle cx="651.1" cy="451.9" r="3.1"/><circle cx="662.4" cy="451.9" r="3.1"/><circle cx="673.8" cy="451.9" r="3.1"/><circle cx="685.2" cy="451.9" r="3.1"/><circle cx="696.5" cy="451.9" r="3.1"/><circle cx="707.9" cy="451.9" r="3.1"/><circle cx="719.3" cy="451.9" r="3.1"/><circle cx="730.6" cy="451.9" r="3.1"/><circle cx="742.0" cy="451.9" r="3.1"/><circle cx="753.4" cy="451.9" r="3.1"/><circle cx="764.8" cy="451.9" r="3.1"/><circle cx="776.1" cy="451.9" r="3.1"/><circle cx="787.5" cy="451.9" r="3.1"/><circle cx="798.9" cy="451.9" r="3.1"/><circle cx="810.2" cy="451.9" r="3.1"/><circle cx="821.6" cy="451.9" r="3.1"/><circle cx="833.0" cy="451.9" r="3.1"/><circle cx="844.3" cy="451.9" r="3.1"/><circle cx="855.7" cy="451.9" r="3.1"/><circle cx="867.1" cy="451.9" r="3.1"/><circle cx="878.5" cy="451.9" r="3.1"/><circle cx="889.8" cy="451.9" r="3.1"/><circle cx="901.2" cy="451.9" r="3.1"/><circle cx="912.6" cy="451.9" r="3.1"/><circle cx="923.9" cy="451.9" r="3.1"/></g>
<line x1="261.0" y1="428.0" x2="261.0" y2="658.3" stroke="#7f7f7f" stroke-width="1.3" stroke-dasharray="11,4.5"/>
<line x1="428.8" y1="428.0" x2="428.8" y2="658.3" stroke="#7f7f7f" stroke-width="1.3" stroke-dasharray="11,4.5"/>
<line x1="596.5" y1="428.0" x2="596.5" y2="658.3" stroke="#7f7f7f" stroke-width="1.3" stroke-dasharray="11,4.5"/>
<line x1="764.3" y1="428.0" x2="764.3" y2="658.3" stroke="#7f7f7f" stroke-width="1.3" stroke-dasharray="11,4.5"/>
<g fill="#bbd4ee" stroke="#ffffff" stroke-width="0.8"><circle cx="113.2" cy="533.4" r="7.0"/><circle cx="122.0" cy="523.7" r="7.0"/><circle cx="129.9" cy="556.2" r="7.0"/><circle cx="137.8" cy="530.8" r="7.0"/><circle cx="147.5" cy="529.9" r="7.0"/><circle cx="158.0" cy="555.4" r="7.0"/><circle cx="166.0" cy="523.7" r="7.0"/><circle cx="173.0" cy="553.6" r="7.0"/><circle cx="180.9" cy="552.7" r="7.0"/><circle cx="189.7" cy="531.6" r="7.0"/><circle cx="196.7" cy="516.7" r="7.0"/><circle cx="206.4" cy="522.0" r="7.0"/><circle cx="214.3" cy="526.4" r="7.0"/><circle cx="222.2" cy="553.6" r="7.0"/><circle cx="230.1" cy="517.6" r="7.0"/><circle cx="237.1" cy="550.1" r="7.0"/><circle cx="245.9" cy="556.2" r="7.0"/><circle cx="253.0" cy="527.2" r="7.0"/><circle cx="261.7" cy="530.8" r="7.0"/><circle cx="280.2" cy="555.4" r="7.0"/><circle cx="289.9" cy="558.0" r="7.0"/><circle cx="296.9" cy="573.0" r="7.0"/><circle cx="306.6" cy="539.5" r="7.0"/><circle cx="314.5" cy="537.8" r="7.0"/><circle cx="325.0" cy="533.4" r="7.0"/><circle cx="332.0" cy="536.0" r="7.0"/><circle cx="340.0" cy="527.2" r="7.0"/><circle cx="348.8" cy="529.0" r="7.0"/><circle cx="356.7" cy="534.3" r="7.0"/><circle cx="364.6" cy="546.6" r="7.0"/><circle cx="373.4" cy="527.2" r="7.0"/><circle cx="381.3" cy="525.5" r="7.0"/><circle cx="390.0" cy="520.2" r="7.0"/><circle cx="398.0" cy="556.2" r="7.0"/><circle cx="405.0" cy="526.4" r="7.0"/><circle cx="412.9" cy="544.8" r="7.0"/><circle cx="420.8" cy="539.5" r="7.0"/><circle cx="429.6" cy="531.6" r="7.0"/><circle cx="464.9" cy="539.5" r="7.0"/><circle cx="475.5" cy="548.3" r="7.0"/><circle cx="483.4" cy="529.9" r="7.0"/><circle cx="493.0" cy="539.5" r="7.0"/><circle cx="501.8" cy="551.0" r="7.0"/><circle cx="508.9" cy="532.5" r="7.0"/><circle cx="516.8" cy="546.6" r="7.0"/><circle cx="524.7" cy="542.2" r="7.0"/><circle cx="531.7" cy="523.7" r="7.0"/><circle cx="540.5" cy="526.4" r="7.0"/><circle cx="549.3" cy="523.7" r="7.0"/><circle cx="557.2" cy="523.7" r="7.0"/><circle cx="565.1" cy="523.7" r="7.0"/><circle cx="573.9" cy="523.7" r="7.0"/><circle cx="589.7" cy="522.9" r="7.0"/><circle cx="596.7" cy="535.2" r="7.0"/><circle cx="624.1" cy="543.6" r="7.0"/><circle cx="632.9" cy="547.1" r="7.0"/><circle cx="642.6" cy="534.8" r="7.0"/><circle cx="651.4" cy="567.3" r="7.0"/><circle cx="660.2" cy="525.2" r="7.0"/><circle cx="669.0" cy="519.0" r="7.0"/><circle cx="675.1" cy="541.0" r="7.0"/><circle cx="683.9" cy="543.6" r="7.0"/><circle cx="691.8" cy="541.9" r="7.0"/><circle cx="700.6" cy="540.1" r="7.0"/><circle cx="710.3" cy="524.3" r="7.0"/><circle cx="719.0" cy="523.4" r="7.0"/><circle cx="727.0" cy="523.4" r="7.0"/><circle cx="734.9" cy="531.3" r="7.0"/><circle cx="741.9" cy="523.4" r="7.0"/><circle cx="765.6" cy="526.9" r="7.0"/><circle cx="800.7" cy="526.0" r="7.0"/><circle cx="811.2" cy="512.0" r="7.0"/><circle cx="818.2" cy="555.0" r="7.0"/><circle cx="828.8" cy="545.4" r="7.0"/><circle cx="837.6" cy="546.2" r="7.0"/><circle cx="844.6" cy="526.0" r="7.0"/><circle cx="853.4" cy="525.2" r="7.0"/><circle cx="860.4" cy="524.3" r="7.0"/><circle cx="867.5" cy="524.3" r="7.0"/><circle cx="874.5" cy="528.7" r="7.0"/><circle cx="885.0" cy="524.3" r="7.0"/><circle cx="894.7" cy="531.3" r="7.0"/><circle cx="902.6" cy="530.4" r="7.0"/><circle cx="909.7" cy="515.5" r="7.0"/><circle cx="916.7" cy="532.2" r="7.0"/><circle cx="932.5" cy="527.8" r="7.0"/></g>
<line x1="106.7" y1="537.4" x2="246.5" y2="535.4" stroke="#0a6fc2" stroke-width="5.6" stroke-linecap="round"/>
<path d="M261.5,535.2 L245.6,543.2 L245.4,527.7 Z" fill="#0a6fc2"/>
<line x1="274.6" y1="550.7" x2="413.6" y2="531.7" stroke="#0a6fc2" stroke-width="5.6" stroke-linecap="round"/>
<path d="M428.5,529.7 L413.7,539.5 L411.6,524.2 Z" fill="#0a6fc2"/>
<line x1="442.6" y1="546.3" x2="581.6" y2="526.5" stroke="#0a6fc2" stroke-width="5.6" stroke-linecap="round"/>
<path d="M596.5,524.4 L581.7,534.3 L579.6,519.0 Z" fill="#0a6fc2"/>
<line x1="610.6" y1="546.8" x2="749.7" y2="525.4" stroke="#0a6fc2" stroke-width="5.6" stroke-linecap="round"/>
<path d="M764.5,523.2 L749.8,533.3 L747.5,517.9 Z" fill="#0a6fc2"/>
<line x1="778.4" y1="536.9" x2="916.4" y2="525.4" stroke="#0a6fc2" stroke-width="5.6" stroke-linecap="round"/>
<path d="M931.4,524.2 L916.1,533.2 L914.8,517.8 Z" fill="#0a6fc2"/>
<text x="708.59" y="485.80" font-size="21.5" font-weight="bold" stroke="#111111" stroke-width="0.15" textLength="149.42" lengthAdjust="spacingAndGlyphs" xml:space="preserve">Propane conv.</text>
<path d="M863.9,473.2 H914.9 V467 L928.6,480.1 L914.9,493.3 V486.9 H863.9 Z" fill="#6aab40"/>
<path d="M97.3,578.9 L110.5,565.4 V572.4 H160.7 V586.3 H110.5 V592.4 Z" fill="#0a6fc2"/>
<text x="169.97" y="586.25" font-size="21.4" font-weight="bold" stroke="#111111" stroke-width="0.15" textLength="104.48" lengthAdjust="spacingAndGlyphs" xml:space="preserve">H<tspan font-size="13.91" dy="4.28">2</tspan><tspan dy="-4.28"> mol-%</tspan></text>
</svg>
</body></html>
